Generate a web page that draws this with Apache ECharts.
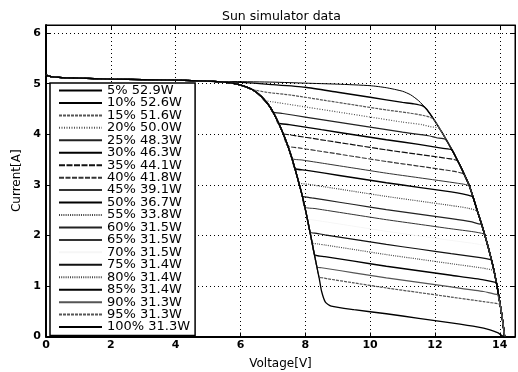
<!DOCTYPE html>
<html><head><meta charset="utf-8">
<script src="https://cdn.jsdelivr.net/npm/echarts@6/dist/echarts.min.js"></script>
<style>html,body{margin:0;padding:0;background:#fff}#c{width:518px;height:372px}</style>
</head><body><div id="c"></div>
<script>
// ---- data ----
const legendNames = ["5% 52.9W","10% 52.6W","15% 51.6W","20% 50.0W","25% 48.3W","30% 46.3W","35% 44.1W","40% 41.8W","45% 39.1W","50% 36.7W","55% 33.8W","60% 31.5W","65% 31.5W","70% 31.5W","75% 31.4W","80% 31.4W","85% 31.4W","90% 31.3W","95% 31.3W","100% 31.3W"];
const xTickValues = [0,2,4,6,8,10,12,14];
const yTickValues = [0,1,2,3,4,5,6];

// shared start of every curve (unshaded short-circuit region)
const commonStart = [[0,5.17],[0.15,5.14],[0.5,5.12],[1,5.11],[2,5.09],[3,5.08],[4,5.07],[5,5.05],[5.5,5.03]];
// shared left steep drop (bypass region)
const leftDrop = [[5.9,4.99],[6.15,4.94],[6.4,4.87],[6.65,4.74],[6.9,4.55],[7.1,4.32],[7.3,4.04],[7.45,3.79],[7.6,3.5],[7.75,3.16],[7.9,2.8],[8.03,2.43],[8.15,2.05],[8.25,1.72],[8.35,1.4],[8.43,1.15],[8.5,0.9]];
// shared right steep drop towards open-circuit voltage
const rightDrop = [[11,4.85],[11.25,4.78],[11.5,4.66],[11.75,4.49],[12,4.26],[12.25,4.0],[12.5,3.72],[12.65,3.54],[12.8,3.35],[12.93,3.17],[13.05,3.0],[13.18,2.75],[13.3,2.5],[13.43,2.24],[13.55,1.98],[13.65,1.75],[13.75,1.5],[13.83,1.28],[13.9,1.05],[13.96,0.83],[14.02,0.6],[14.07,0.4],[14.1,0.25],[14.15,0]];

// individual plateau part of each curve
const p05 = [[5.8,5.04],[7,5.03],[8,5.01],[9,4.99],[10,4.96],[10.5,4.92]];
const p10 = [[5.8,5.03],[7,4.98],[8,4.93],[9,4.83],[10,4.73],[11,4.63],[11.35,4.6],[11.62,4.56]];
const p15 = [[6.4,4.88],[6.8,4.83],[7.6,4.77],[8.6,4.67],[9.5,4.58],[10.5,4.48],[11.2,4.42],[11.65,4.37],[11.92,4.32]];
const p20 = [[6.72,4.67],[7.0,4.64],[7.8,4.56],[9,4.44],[10,4.34],[11,4.24],[11.6,4.19],[11.85,4.15],[12.12,4.12]];
const p25 = [[6.99,4.44],[7.3,4.41],[8,4.34],[9,4.24],[10,4.14],[11,4.04],[11.8,3.97],[12.05,3.93],[12.32,3.9]];
const p30 = [[7.16,4.22],[7.5,4.19],[8.5,4.09],[9.5,3.99],[10.5,3.89],[11.5,3.8],[12.25,3.72],[12.52,3.69]];
const p35 = [[7.32,4.01],[7.6,3.98],[8.5,3.89],[9.5,3.79],[10.5,3.69],[11.5,3.6],[12.4,3.52],[12.68,3.48]];
const p40 = [[7.45,3.77],[7.8,3.73],[8.6,3.65],[9.5,3.56],[10.5,3.46],[11.5,3.37],[12.55,3.27],[12.88,3.22]];
const p45 = [[7.59,3.52],[7.9,3.49],[8.6,3.42],[9.5,3.33],[10.5,3.23],[11.5,3.14],[12.7,3.03],[13.05,2.98]];
const p50 = [[7.68,3.32],[8.0,3.29],[8.6,3.23],[9.5,3.14],[10.5,3.04],[11.5,2.95],[12.5,2.86],[12.85,2.82],[13.15,2.77]];
const p55 = [[7.8,3.04],[8.1,3.01],[8.6,2.96],[9.5,2.87],[10.5,2.77],[11.5,2.68],[12.5,2.59],[13.0,2.54],[13.3,2.48]];
const p60 = [[7.91,2.77],[8.2,2.74],[8.6,2.7],[9.5,2.61],[10.5,2.51],[11.5,2.42],[12.5,2.33],[13.1,2.27],[13.42,2.22]];
const p65 = [[7.98,2.56],[8.3,2.53],[8.6,2.5],[9.5,2.41],[10.5,2.31],[11.5,2.22],[12.5,2.13],[13.2,2.07],[13.5,2.03]];
const p70 = [[8.05,2.33],[8.3,2.3],[8.6,2.27],[9.5,2.18],[10.5,2.08],[11.5,1.99],[12.5,1.9],[13.3,1.83],[13.63,1.78]];
const p75 = [[8.15,2.06],[8.35,2.04],[8.6,2.01],[9.5,1.92],[10.5,1.82],[11.5,1.73],[12.5,1.64],[13.4,1.56],[13.72,1.52]];
const p80 = [[8.22,1.85],[8.4,1.83],[8.6,1.81],[9.5,1.72],[10.5,1.62],[11.5,1.53],[12.5,1.44],[13.5,1.35],[13.8,1.31]];
const p85 = [[8.29,1.61],[8.45,1.59],[8.6,1.58],[9.5,1.49],[10.5,1.39],[11.5,1.3],[12.5,1.21],[13.5,1.12],[13.87,1.07]];
const p90 = [[8.37,1.37],[8.5,1.36],[8.7,1.34],[9.5,1.26],[10.5,1.16],[11.5,1.07],[12.5,0.98],[13.5,0.89],[13.94,0.83]];
const p95 = [[8.43,1.17],[8.55,1.16],[8.7,1.14],[9.5,1.06],[10.5,0.96],[11.5,0.87],[12.5,0.78],[13.5,0.69],[13.99,0.64]];
const p100 = [[8.62,0.68],[8.8,0.6],[9.5,0.53],[10.5,0.45],[11.5,0.36],[12.5,0.27],[13.3,0.19],[13.7,0.13],[13.95,0.07],[14.12,0.0]];

const plateaus = [p05,p10,p15,p20,p25,p30,p35,p40,p45,p50,p55,p60,p65,p70,p75,p80,p85,p90,p95,p100];

// ---- styles ----
const lineStyles = [
  {color:'#000', type:'solid', width:1},
  {color:'#000', type:'solid', width:1.4},
  {color:'#555', type:[3,1], width:1.2},
  {color:'#555', type:[1,1.5], width:1.2},
  {color:'#222', type:'solid', width:1.2},
  {color:'#000', type:'solid', width:1.4},
  {color:'#111', type:[6,1.5], width:1.2},
  {color:'#333', type:[5,1.5], width:1.2},
  {color:'#333', type:'solid', width:1},
  {color:'#000', type:'solid', width:1.4},
  {color:'#444', type:[1,1.2], width:1.2},
  {color:'#222', type:'solid', width:1.2},
  {color:'#333', type:'solid', width:1},
  {color:'#f6f6f6', type:'solid', width:1},
  {color:'#111', type:'solid', width:1.2},
  {color:'#444', type:[1,1.2], width:1.2},
  {color:'#000', type:'solid', width:1.4},
  {color:'#555', type:'solid', width:1.2},
  {color:'#555', type:[3,1], width:1.2},
  {color:'#000', type:'solid', width:1.3}
];

function buildCurve(mid){
  const v0 = mid[0][0], v1 = mid[mid.length-1][0];
  return commonStart.concat(leftDrop.filter(p => p[0] < v0), mid, rightDrop.filter(p => p[0] > v1));
}

const series = legendNames.map((name, i) => ({
  name: name,
  type: 'line',
  data: buildCurve(plateaus[i]),
  symbol: 'none',
  smooth: 0.2,
  z: lineStyles[i].color === '#f6f6f6' ? 1 : 2,
  lineStyle: lineStyles[i],
  itemStyle: {color: lineStyles[i].color},
  emphasis: {disabled: true}
}));

const FONT = 'DejaVu Sans';
const xMax = 14.47, yMax = 6.16;

const chart = echarts.init(document.getElementById('c'), null, {renderer:'canvas'});
chart.setOption({
  animation: false,
  backgroundColor: '#fff',
  title: {
    text: 'Sun simulator data', left: 217, top: 5,
    textStyle: {fontFamily: FONT, fontSize: 12.5, fontWeight: 'normal', color: '#000'}
  },
  grid: {left: 46, right: 3, top: 25, bottom: 35.5, show: true, borderColor: '#000', borderWidth: 1,
         backgroundColor: '#fff', containLabel: false, outerBoundsMode: 'none'},
  legend: {
    orient: 'vertical', left: 50, top: 83, padding: [1, 5, 2, 8],
    itemGap: -0.55, itemWidth: 43, itemHeight: 8,
    backgroundColor: '#fff', borderColor: '#000', borderWidth: 1.5, borderRadius: 0,
    itemStyle: {opacity: 0},
    textStyle: {fontFamily: FONT, fontSize: 13, color: '#000'},
    data: legendNames, selectedMode: false
  },
  xAxis: [{
    type: 'value', min: 0, max: xMax, interval: 2, position: 'bottom',
    name: 'Voltage[V]', nameLocation: 'middle', nameGap: 21,
    nameTextStyle: {fontFamily: FONT, fontSize: 12, color: '#000'},
    axisLine: {show: true, onZero: false, lineStyle: {color: '#000', width: 2}},
    axisTick: {show: true, inside: true, length: 4, lineStyle: {color: '#000'}},
    axisLabel: {margin: 3, showMaxLabel: false, fontFamily: FONT, fontWeight: 'bold', fontSize: 11, color: '#000',
      formatter: v => xTickValues.includes(v) ? String(v) : ''},
    splitLine: {show: true, lineStyle: {color: '#000', type: [1, 3], width: 1}}
  }, {
    type: 'value', min: 0, max: xMax, interval: 2, position: 'top',
    axisLine: {show: true, onZero: false, lineStyle: {color: '#000', width: 1}},
    axisTick: {show: true, inside: true, length: 4, lineStyle: {color: '#000'}},
    axisLabel: {show: false}, splitLine: {show: false}
  }],
  yAxis: [{
    type: 'value', min: 0, max: yMax, interval: 1, position: 'left',
    name: 'Current[A]', nameLocation: 'middle', nameGap: 17, nameRotate: 90,
    nameTextStyle: {fontFamily: FONT, fontSize: 12, color: '#000'},
    axisLine: {show: true, onZero: false, lineStyle: {color: '#000', width: 2}},
    axisTick: {show: true, inside: true, length: 4, lineStyle: {color: '#000'}},
    axisLabel: {margin: 5, showMaxLabel: false, fontFamily: FONT, fontWeight: 'bold', fontSize: 11, color: '#000',
      formatter: v => yTickValues.includes(v) ? String(v) : ''},
    splitLine: {show: true, lineStyle: {color: '#000', type: [1, 3], width: 1}}
  }, {
    type: 'value', min: 0, max: yMax, interval: 1, position: 'right',
    axisLine: {show: true, onZero: false, lineStyle: {color: '#000', width: 1}},
    axisTick: {show: true, inside: true, length: 4, lineStyle: {color: '#000'}},
    axisLabel: {show: false}, splitLine: {show: false}
  }],
  series: series
});
</script>
</body></html>
